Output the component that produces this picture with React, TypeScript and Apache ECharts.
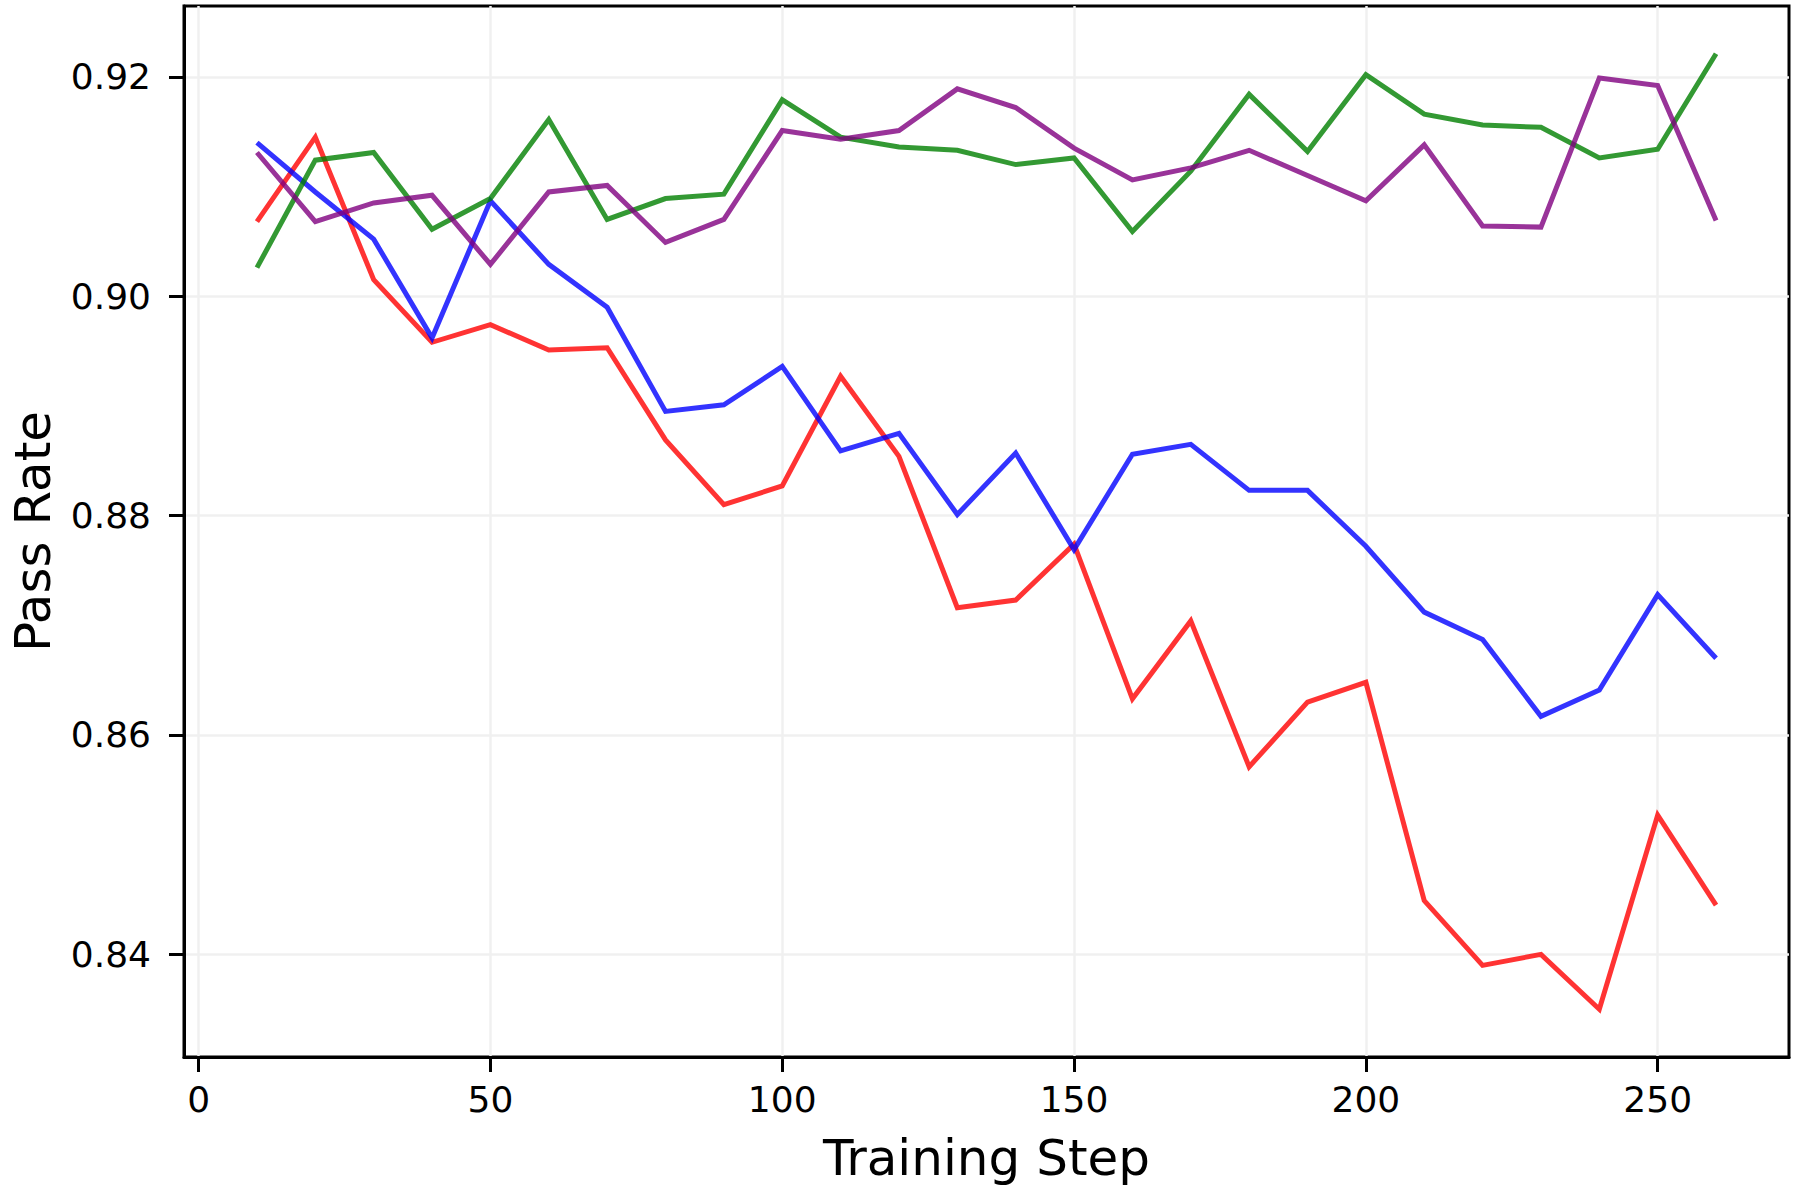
import React, { useEffect, useRef } from "react";
import * as echarts from "echarts";

const steps = [10, 20, 30, 40, 50, 60, 70, 80, 90, 100, 110, 120, 130, 140, 150, 160, 170, 180, 190, 200, 210, 220, 230, 240, 250, 260];

const redValues = [0.9068, 0.9145, 0.9015, 0.8958, 0.8974, 0.8951, 0.8953, 0.8869, 0.8810, 0.8827, 0.8927, 0.8854, 0.8716, 0.8723, 0.8774, 0.8633, 0.8704, 0.8571, 0.8630, 0.8648, 0.8449, 0.8390, 0.8400, 0.8350, 0.8527, 0.8445];
const blueValues = [0.9140, 0.9095, 0.9052, 0.8962, 0.9087, 0.9029, 0.8990, 0.8895, 0.8901, 0.8936, 0.8859, 0.8875, 0.8801, 0.8857, 0.8769, 0.8856, 0.8865, 0.8823, 0.8823, 0.8772, 0.8712, 0.8687, 0.8617, 0.8641, 0.8728, 0.8670];
const greenValues = [0.9026, 0.9124, 0.9131, 0.9061, 0.9089, 0.9161, 0.9070, 0.9089, 0.9093, 0.9179, 0.9145, 0.9136, 0.9133, 0.9120, 0.9126, 0.9059, 0.9114, 0.9184, 0.9132, 0.9202, 0.9166, 0.9156, 0.9154, 0.9126, 0.9134, 0.9221];
const purpleValues = [0.9131, 0.9068, 0.9085, 0.9092, 0.9029, 0.9095, 0.9101, 0.9049, 0.9070, 0.9151, 0.9143, 0.9151, 0.9189, 0.9172, 0.9135, 0.9106, 0.9117, 0.9133, 0.9110, 0.9087, 0.9138, 0.9064, 0.9063, 0.9199, 0.9192, 0.9069];

const xTicks = [0, 50, 100, 150, 200, 250];
const yTicks = [0.84, 0.86, 0.88, 0.9, 0.92];

const seriesDefs = [
  { name: "red", values: redValues, color: "#ff0000" },
  { name: "blue", values: blueValues, color: "#0000ff" },
  { name: "green", values: greenValues, color: "#008000" },
  { name: "purple", values: purpleValues, color: "#800080" },
];

const FONT = "DejaVu Sans";

export default function App() {
  const ref = useRef<HTMLDivElement>(null);

  useEffect(() => {
    if (!ref.current) return;
    const chart = echarts.init(ref.current, null, { renderer: "svg" });

    const all = seriesDefs.flatMap((s) => s.values);
    const yMinD = Math.min(...all);
    const yMaxD = Math.max(...all);
    const yPad = (yMaxD - yMinD) * 0.05;
    const xMinD = Math.min(...steps);
    const xMaxD = Math.max(...steps);
    const xPad = (xMaxD - xMinD) * 0.05;

    const option: any = {
      animation: false,
      backgroundColor: "#ffffff",
      textStyle: { fontFamily: FONT },
      grid: {
        left: 183,
        top: 6,
        width: 1606,
        height: 1051,
        show: true,
        borderColor: "#000",
        borderWidth: 3,
        backgroundColor: "transparent",
        containLabel: false,
      },
      xAxis: {
        type: "value",
        min: xMinD - xPad,
        max: xMaxD + xPad,
        name: "Training Step",
        nameLocation: "middle",
        nameGap: 76,
        nameTextStyle: { fontSize: 50, color: "#000", fontFamily: FONT },
        axisLine: { show: true, onZero: false, lineStyle: { color: "#000", width: 3 } },
        axisTick: { show: true, length: 15, lineStyle: { color: "#000", width: 3 }, customValues: xTicks },
        axisLabel: {
          show: true,
          customValues: xTicks,
          fontSize: 36,
          color: "#000",
          fontFamily: FONT,
          margin: 24,
          formatter: (v: number) => String(v),
        },
        splitLine: { show: true, lineStyle: { color: "#f0f0f0", width: 2.5 } },
        minorTick: { show: false },
      },
      yAxis: {
        type: "value",
        min: yMinD - yPad,
        max: yMaxD + yPad,
        name: "Pass Rate",
        nameLocation: "middle",
        nameGap: 126,
        nameTextStyle: { fontSize: 50, color: "#000", fontFamily: FONT },
        axisLine: { show: true, onZero: false, lineStyle: { color: "#000", width: 3 } },
        axisTick: { show: true, length: 15, lineStyle: { color: "#000", width: 3 }, customValues: yTicks },
        axisLabel: {
          show: true,
          customValues: yTicks,
          fontSize: 36,
          color: "#000",
          fontFamily: FONT,
          margin: 33,
          formatter: (v: number) => v.toFixed(2),
        },
        splitLine: { show: true, lineStyle: { color: "#f0f0f0", width: 2.5 } },
      },
      series: seriesDefs.map((s) => ({
        name: s.name,
        type: "line",
        data: steps.map((x, i) => [x, s.values[i]]),
        showSymbol: false,
        symbol: "none",
        lineStyle: { color: s.color, width: 5, opacity: 0.8, cap: "butt", join: "miter" },
        itemStyle: { color: s.color },
        emphasis: { disabled: true },
      })),
    };

    chart.setOption(option);
    return () => chart.dispose();
  }, []);

  return (
    <div
      ref={ref}
      style={{ position: "absolute", left: 0, top: 0, width: 1795, height: 1193, background: "#fff" }}
    />
  );
}
